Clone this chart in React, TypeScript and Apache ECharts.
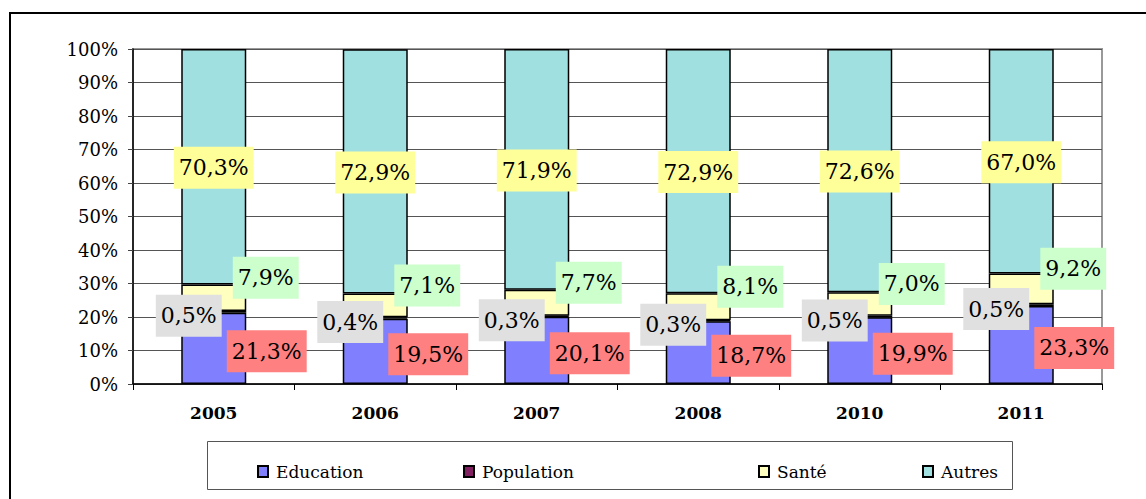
import React, { useEffect, useRef } from "react";
import * as echarts from "echarts";

const categories = ["2005", "2006", "2007", "2008", "2010", "2011"];
const education = [21.3, 19.5, 20.1, 18.7, 19.9, 23.3];
const population = [0.5, 0.4, 0.3, 0.3, 0.5, 0.5];
const sante = [7.9, 7.1, 7.7, 8.1, 7.0, 9.2];
const autres = [70.3, 72.9, 71.9, 72.9, 72.6, 67.0];

const FONT = "'DejaVu Serif', 'Liberation Serif', serif";

const fmt = (p: any) => p.value.toFixed(1).replace(".", ",") + "%";

function labelCfg(bg: string, offset: [number, number]) {
  return {
    show: true,
    position: "inside",
    offset,
    formatter: fmt,
    color: "#000",
    fontFamily: FONT,
    fontSize: 22,
    lineHeight: 24,
    backgroundColor: bg,
    padding: [9, 5, 9, 5],
  };
}

export default function App() {
  const ref = useRef<HTMLDivElement>(null);
  useEffect(() => {
    const chart = echarts.init(ref.current!, null, { renderer: "svg" });
    const barBase = {
      type: "bar",
      stack: "total",
      barWidth: 65,
    };
    const legendItem = (name: string, left: number) => ({
      data: [name],
      left,
      top: 458,
      icon: "rect",
      itemWidth: 10,
      itemHeight: 11,
      itemGap: 0,
      textStyle: { fontFamily: FONT, fontSize: 17, color: "#000", padding: [0, 0, 0, 3] },
    });
    chart.setOption({
      animation: false,
      backgroundColor: "#fff",
      textStyle: { fontFamily: FONT },
      grid: {
        left: 133,
        right: 44,
        top: 49,
        bottom: 115,
        show: true,
        borderColor: "#999",
        borderWidth: 2,
        containLabel: false,
      },
      legend: [
        legendItem("Education", 252),
        legendItem("Population", 458),
        legendItem("Santé", 753),
        legendItem("Autres", 917),
      ],
      xAxis: {
        type: "category",
        data: categories,
        axisLine: { lineStyle: { color: "#000", width: 1.5 } },
        axisTick: { show: true, length: 6, lineStyle: { color: "#000" } },
        axisLabel: {
          margin: 20,
          fontFamily: FONT,
          fontSize: 17,
          fontWeight: "bold",
          color: "#000",
        },
      },
      yAxis: {
        type: "value",
        min: 0,
        max: 100,
        interval: 10,
        axisLine: { show: true, lineStyle: { color: "#000", width: 1.5 } },
        axisTick: { show: true, length: 5, lineStyle: { color: "#444" } },
        axisLabel: {
          formatter: "{value}%",
          margin: 15,
          fontFamily: FONT,
          fontSize: 18,
          color: "#000",
        },
        splitLine: { show: true, lineStyle: { color: "#555", width: 1 } },
      },
      series: [
        {
          ...barBase,
          name: "Education",
          data: education,
          itemStyle: { color: "#8080FF", borderColor: "#000", borderWidth: 1.5 },
          label: labelCfg("#FF8080", [53, 3]),
        },
        {
          ...barBase,
          name: "Population",
          data: population,
          itemStyle: { color: "#802060", borderColor: "#000", borderWidth: 1.5 },
          label: labelCfg("#E0E0E0", [-25, 4]),
        },
        {
          ...barBase,
          name: "Santé",
          data: sante,
          itemStyle: { color: "#FFFFC0", borderColor: "#000", borderWidth: 1.5 },
          label: labelCfg("#CCFFCC", [52, -20]),
        },
        {
          ...barBase,
          name: "Autres",
          data: autres,
          itemStyle: { color: "#A0E0E0", borderColor: "#000", borderWidth: 1.5 },
          label: labelCfg("#FFFF99", [0, 1]),
        },
      ],
      graphic: [
        {
          type: "rect",
          shape: { x: 10, y: 13, width: 1150, height: 500 },
          style: { fill: "none", stroke: "#000", lineWidth: 2 },
          silent: true,
        },
        {
          type: "rect",
          shape: { x: 207.5, y: 441.5, width: 805, height: 48 },
          style: { fill: "none", stroke: "#555", lineWidth: 1 },
          silent: true,
        },
      ],
    });
    return () => chart.dispose();
  }, []);
  return (
    <div
      ref={ref}
      style={{ position: "fixed", left: 0, top: 0, width: 1146, height: 499 }}
    />
  );
}
